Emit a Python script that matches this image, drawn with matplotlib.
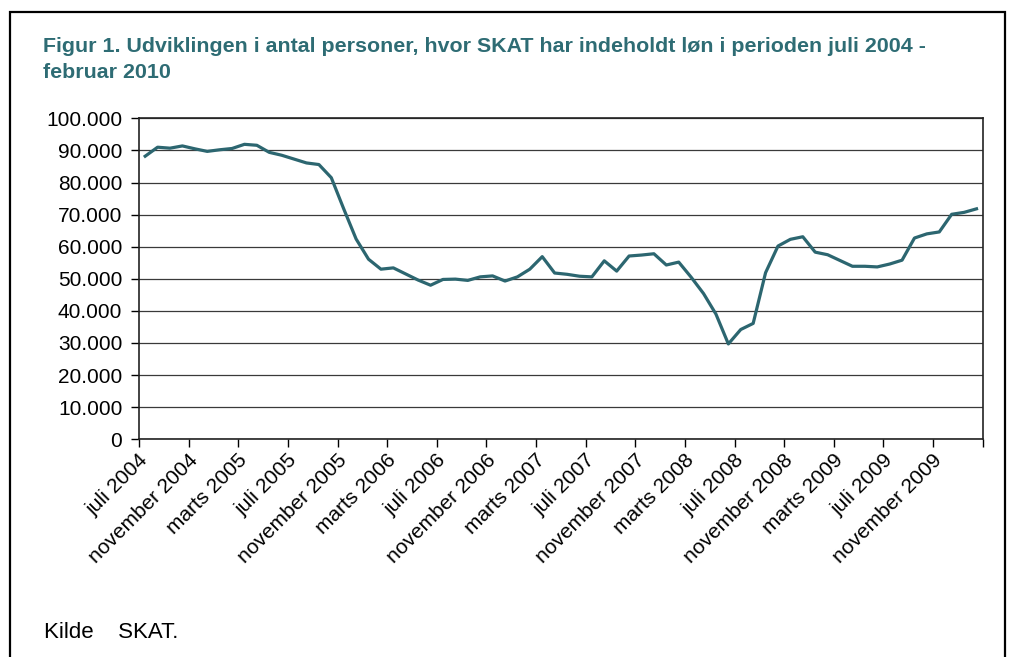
import matplotlib
matplotlib.use("Agg")
import matplotlib.pyplot as plt
import matplotlib.patches as mpatches
import numpy as np

plt.rcParams.update({"font.family": ["Liberation Sans", "DejaVu Sans"], "font.size": 15})

# monthly data, juli 2004 - februar 2010
month_names = ["januar", "februar", "marts", "april", "maj", "juni", "juli",
               "august", "september", "oktober", "november", "december"]
months = [f"{month_names[(6 + i) % 12]} {2004 + (6 + i) // 12}" for i in range(68)]

persons = [
    88200, 91000, 90700, 91400, 90500, 89700, 90200, 90600, 91900, 91600,
    89400, 88500, 87300, 86100, 85600, 81500, 71800, 62400, 56100, 53000,
    53400, 51500, 49600, 48000, 49800, 49900, 49500, 50600, 50900, 49300,
    50600, 53000, 56900, 51800, 51400, 50800, 50600, 55600, 52400, 57100,
    57400, 57800, 54300, 55200, 50500, 45400, 39000, 29700, 34200, 36100,
    51900, 60200, 62300, 63100, 58300, 57500, 55700, 53900, 53900, 53700,
    54600, 55800, 62700, 64000, 64600, 70100, 70700, 71800,
]

LINE = "#2C6670"
TITLE = "#2E6C74"

fig = plt.figure(figsize=(10.13, 6.57), dpi=100)
ax = fig.add_axes([0.1372, 0.3314, 0.9701 - 0.1372, 0.8199 - 0.3314])

x = np.arange(len(persons))
ax.plot(x, persons, color=LINE, linewidth=2.3, zorder=3)

ax.set_xlim(-0.5, len(persons) - 0.5)
ax.set_ylim(0, 100000)
yt = np.arange(0, 100001, 10000)
ax.set_yticks(yt)
ax.set_yticklabels([f"{v:,}".replace(",", ".") for v in yt])
ax.grid(axis="y", color="#3a3a3a", linewidth=0.9, zorder=1)

# ticks between categories, labels every 4th month
ax.set_xticks(np.arange(-0.5, len(persons), 4))
ax.set_xticklabels([])
ax.set_xticks(x[::4], minor=True)
ax.set_xticklabels([months[i] for i in x[::4]], minor=True, fontsize=15,
                   rotation=45, ha="right", va="center", rotation_mode="anchor")
ax.tick_params(axis="x", which="major", length=6, width=1, direction="out")
ax.tick_params(axis="x", which="minor", length=0, pad=13)
ax.tick_params(axis="y", length=6, width=1, pad=6)

for s in ax.spines.values():
    s.set_color("#222222")
    s.set_linewidth(1.2)

title_lines = ["Figur 1. Udviklingen i antal personer, hvor SKAT har indeholdt løn i perioden juli 2004 -",
               "februar 2010"]
for ypix, line in zip([46, 73], title_lines):
    fig.text(43 / 1013, 1 - ypix / 657, line, color=TITLE, fontsize=15.4,
             fontweight="bold", va="center", ha="left")
fig.text(44 / 1013, 1 - 633 / 657, "Kilde    SKAT.", fontsize=16, va="center", ha="left")

frame = mpatches.Rectangle((10 / 1013, -0.05), 995 / 1013, 1.05 - 12 / 657,
                           transform=fig.transFigure, fill=False,
                           edgecolor="black", linewidth=1.6)
fig.patches.append(frame)

fig.savefig("out.png", dpi=100)
